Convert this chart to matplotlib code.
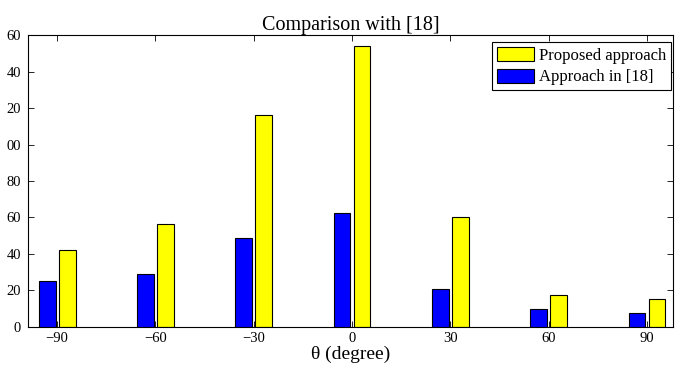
import numpy as np
import matplotlib
matplotlib.use('Agg')
import matplotlib.pyplot as plt

# angles and values
theta = [-90, -60, -30, 0, 30, 60, 90]
proposed = [42, 56.5, 116, 154, 60, 17.5, 15]
approach18 = [25.3, 28.8, 48.6, 62.2, 20.7, 9.7, 7.5]

# y ticks; the source image is cropped so the leading "1" of 100..160 is cut off
yticks = [0, 20, 40, 60, 80, 100, 120, 140, 160]
ytick_labels = ['0', '20', '40', '60', '80', '00', '20', '40', '60']


def main():
    plt.rcParams['font.family'] = ['Liberation Serif', 'DejaVu Serif']

    fig = plt.figure(figsize=(6.75, 3.66), dpi=100)
    ax = fig.add_axes([0.0415, 0.107, 0.9555, 0.797])

    x = np.array(theta)
    b2 = ax.bar(x - 3.0, approach18, width=5.1, color='#0000ff',
                edgecolor='k', linewidth=0.8, label='Approach in [18]')
    b1 = ax.bar(x + 3.1, proposed, width=5.1, color='#ffff00',
                edgecolor='k', linewidth=0.8, label='Proposed approach')

    ax.set_xlim(-98.85, 97.95)
    ax.set_ylim(0, 160)
    ax.set_xticks(theta)
    ax.set_yticks(yticks)
    ax.set_yticklabels(ytick_labels)
    ax.tick_params(direction='in', top=True, right=True, length=4,
                   width=0.6, labelsize=10.5)
    ax.tick_params(axis='x', pad=4)
    ax.tick_params(axis='y', pad=5)
    for s in ax.spines.values():
        s.set_linewidth(0.8)

    ax.set_title('Comparison with [18]', fontsize=14.5, pad=4)
    ax.set_xlabel(u'\u03b8 (degree)', fontsize=14, labelpad=0)

    leg = ax.legend([b1, b2], ['Proposed approach', 'Approach in [18]'],
                    loc='upper right', bbox_to_anchor=(1 - 2 / 645., 1 - 7 / 292.),
                    borderaxespad=0, fontsize=12, handlelength=2.2,
                    handleheight=0.9, handletextpad=0.3, borderpad=0.3,
                    labelspacing=0.3, fancybox=False, framealpha=1)
    leg.get_frame().set_edgecolor('k')
    leg.get_frame().set_linewidth(0.8)

    fig.savefig('out.png', dpi=100)


if __name__ == "__main__":
    main()
